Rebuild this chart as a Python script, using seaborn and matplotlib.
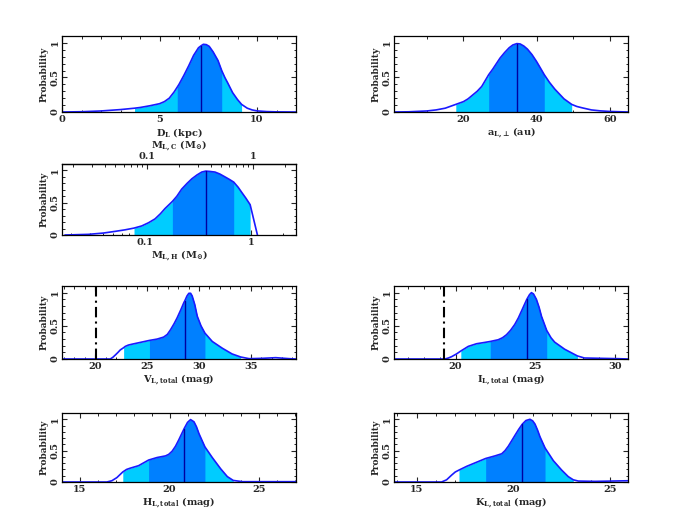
import numpy as np
import matplotlib
matplotlib.use("Agg")
import matplotlib.pyplot as plt
from matplotlib.ticker import MultipleLocator, FixedLocator, FuncFormatter, LogLocator, NullFormatter
import seaborn as sns

# ---------------- data ----------------
dl_x = [0, 1, 2, 3, 3.72, 4, 4.5, 5, 5.25, 5.5, 5.75, 5.91, 6, 6.25, 6.5, 6.75, 7, 7.14, 7.25, 7.4, 7.55, 7.75, 8, 8.19, 8.35, 8.5, 8.75, 9, 9.21, 9.5, 9.75, 10, 10.5, 11, 12]
dl_y = [0, 0.004, 0.015, 0.035, 0.055, 0.065, 0.09, 0.12, 0.15, 0.2, 0.29, 0.36, 0.40, 0.53, 0.67, 0.82, 0.93, 0.96, 0.98, 0.975, 0.95, 0.87, 0.745, 0.6, 0.5, 0.42, 0.28, 0.18, 0.11, 0.055, 0.03, 0.016, 0.006, 0.002, 0]
dl_bounds = dict(c=(3.72, 9.21), d=(5.91, 8.19), med=7.14)

a_x = [1, 5, 10, 12.5, 15, 17.9, 20, 21.25, 22.5, 23.75, 25, 26.9, 28, 29, 30, 31.25, 32.5, 33.5, 34.6, 35.5, 36.5, 37.5, 38.75, 40, 41, 42.1, 43.5, 45, 46.25, 47.5, 49.6, 51, 52.5, 55, 57.5, 60, 65]
a_y = [0, 0.003, 0.015, 0.03, 0.055, 0.11, 0.15, 0.19, 0.245, 0.3, 0.37, 0.54, 0.62, 0.7, 0.78, 0.86, 0.93, 0.97, 0.99, 0.985, 0.955, 0.91, 0.83, 0.73, 0.64, 0.54, 0.43, 0.33, 0.26, 0.19, 0.11, 0.08, 0.06, 0.03, 0.016, 0.008, 0]
a_bounds = dict(c=(17.9, 49.6), d=(26.9, 42.1), med=34.6)

m_x = [0.0175, 0.0291, 0.0403, 0.052, 0.0647, 0.0787, 0.093, 0.108, 0.1245, 0.14, 0.1546, 0.1815, 0.2, 0.222, 0.25, 0.277, 0.31, 0.344, 0.375, 0.41, 0.459, 0.51, 0.571, 0.63, 0.69, 0.76, 0.822, 0.9, 0.987, 1.157]
m_y = [0, 0.01, 0.03, 0.056, 0.08, 0.107, 0.14, 0.19, 0.25, 0.33, 0.41, 0.52, 0.6, 0.71, 0.8, 0.87, 0.93, 0.975, 0.99, 0.985, 0.975, 0.945, 0.90, 0.86, 0.82, 0.74, 0.66, 0.57, 0.47, 0]
m_bounds = dict(c=(0.0787, 0.987), d=(0.1815, 0.69), med=0.375)
m_ratio = 1.047  # M_L,H / M_L,C

v_x = [16.8, 21.45, 21.7, 21.94, 22.2, 22.42, 22.74, 22.9, 23.2, 23.55, 24.35, 25.23, 25.97, 26.6, 26.95, 27.26, 27.6, 27.9, 28.25, 28.55, 28.65, 28.85, 29.03, 29.2, 29.35, 29.6, 29.84, 30.2, 30.58, 31.29, 32.26, 33.2, 34.03, 34.84, 36.1, 37.4, 38.7, 39.36]
v_y = [0, 0, 0.025, 0.06, 0.1, 0.137, 0.17, 0.19, 0.21, 0.223, 0.25, 0.28, 0.30, 0.33, 0.37, 0.44, 0.53, 0.62, 0.74, 0.85, 0.88, 0.95, 0.99, 0.99, 0.95, 0.82, 0.645, 0.5, 0.39, 0.264, 0.162, 0.076, 0.03, 0.005, 0.01, 0.02, 0.005, 0]
v_bounds = dict(c=(22.74, 34.03), d=(25.23, 30.58), med=28.65, lim=20.05)

i_x = [16.13, 19.33, 19.55, 19.75, 20.05, 20.33, 20.8, 21.32, 21.84, 22.18, 22.68, 22.95, 23.2, 23.45, 23.72, 23.95, 24.14, 24.48, 24.65, 24.77, 24.9, 25.08, 25.25, 25.4, 25.73, 26.0, 26.23, 26.86, 27.66, 28.1, 29.16, 30.2, 30.84]
i_y = [0, 0, 0.015, 0.035, 0.075, 0.12, 0.19, 0.23, 0.25, 0.264, 0.29, 0.32, 0.365, 0.43, 0.52, 0.62, 0.72, 0.9, 0.97, 1.0, 0.98, 0.9, 0.78, 0.645, 0.43, 0.32, 0.254, 0.147, 0.046, 0.015, 0.01, 0.005, 0]
i_bounds = dict(c=(20.33, 27.66), d=(22.18, 25.73), med=24.48, lim=19.27)

h_x = [14, 16.5, 16.78, 17.06, 17.39, 17.6, 17.8, 18.27, 18.83, 19.3, 19.77, 19.95, 20.14, 20.33, 20.51, 20.81, 21.0, 21.17, 21.36, 21.5, 21.64, 21.97, 22.38, 22.85, 23.22, 23.55, 24.07, 27.05]
h_y = [0, 0, 0.02, 0.07, 0.16, 0.2, 0.22, 0.26, 0.35, 0.39, 0.416, 0.44, 0.49, 0.57, 0.67, 0.85, 0.95, 0.995, 0.96, 0.88, 0.77, 0.56, 0.39, 0.21, 0.086, 0.025, 0.005, 0.005]
h_bounds = dict(c=(17.39, 23.55), d=(18.83, 21.97), med=20.81)

k_x = [13.83, 16.29, 16.55, 16.81, 17.0, 17.19, 17.59, 18.1, 18.57, 19.05, 19.4, 19.57, 19.74, 19.9, 20.09, 20.28, 20.47, 20.65, 20.86, 21.0, 21.12, 21.25, 21.38, 21.64, 22.07, 22.5, 22.84, 23.1, 23.36, 24.22, 25.09, 25.93]
k_y = [0, 0, 0.035, 0.11, 0.16, 0.19, 0.25, 0.315, 0.375, 0.416, 0.45, 0.5, 0.57, 0.65, 0.746, 0.84, 0.924, 0.98, 1.0, 0.975, 0.924, 0.83, 0.72, 0.543, 0.34, 0.19, 0.086, 0.035, 0.015, 0.01, 0.015, 0.02]
k_bounds = dict(c=(17.19, 23.1), d=(18.57, 21.64), med=20.47)

# ---------------- style ----------------
sns.set_theme(style="ticks")
plt.rcParams.update({
    "font.family": ["DejaVu Serif"],
    "font.weight": "bold",
    "mathtext.fontset": "custom",
    "mathtext.rm": "DejaVu Serif:bold",
    "mathtext.it": "DejaVu Serif:bold",
    "mathtext.bf": "DejaVu Serif:bold",
    "font.size": 7,
    "axes.labelsize": 7,
    "axes.labelweight": "bold",
    "axes.linewidth": 0.9,
    "axes.edgecolor": "black",
    "xtick.direction": "in", "ytick.direction": "in",
    "xtick.top": True, "ytick.right": True,
    "xtick.major.size": 3.5, "ytick.major.size": 3.5,
    "xtick.minor.size": 1.8, "ytick.minor.size": 1.8,
    "xtick.major.width": 0.8, "ytick.major.width": 0.8,
    "xtick.minor.width": 0.7, "ytick.minor.width": 0.7,
    "xtick.labelsize": 7, "ytick.labelsize": 7,
    "xtick.major.pad": 2.5, "ytick.major.pad": 1.5,
})

C_DARK = "#0080ff"
C_LIGHT = "#00ccff"
C_LINE = "#1a1aff"
C_MED = "#0000a0"

fig = plt.figure(figsize=(6.9, 5.18), dpi=100)
W = 234 / 690
pos = {
    "dl": [62 / 690, 1 - 112 / 518, W, 76 / 518],
    "a": [394 / 690, 1 - 112 / 518, W, 76 / 518],
    "m": [62 / 690, 1 - 235 / 518, W, 71 / 518],
    "v": [62 / 690, 1 - 359 / 518, W, 73 / 518],
    "i": [394 / 690, 1 - 359 / 518, W, 73 / 518],
    "h": [62 / 690, 1 - 482 / 518, W, 69 / 518],
    "k": [394 / 690, 1 - 482 / 518, W, 69 / 518],
}


def segment(xs, ys, lo, hi):
    xs = np.asarray(xs, float)
    ys = np.asarray(ys, float)
    inside = (xs > lo) & (xs < hi)
    sx = np.concatenate([[lo], xs[inside], [hi]])
    sy = np.concatenate([[np.interp(lo, xs, ys)], ys[inside], [np.interp(hi, xs, ys)]])
    return sx, sy


fmt = FuncFormatter(lambda v, p: "%g" % v)


def panel(key, xs, ys, b, xlim, xlabel, major, minor, logx=False):
    ax = fig.add_axes(pos[key])
    if logx:
        ax.set_xscale("log")
    for (lo, hi), col in ((b["c"], C_LIGHT), (b["d"], C_DARK)):
        sx, sy = segment(xs, ys, lo, hi)
        ax.fill_between(sx, 0, sy, color=col, linewidth=0)
    sns.lineplot(x=xs, y=ys, ax=ax, color=C_LINE, lw=1.2, estimator=None, sort=False)
    ym = np.interp(b["med"], xs, ys)
    ax.plot([b["med"], b["med"]], [0, ym], color=C_MED, lw=1.0)
    if "lim" in b:
        ax.axvline(b["lim"], color="black", lw=1.5, ls=(0, (5, 2, 1, 2)))
    ax.set_xlim(*xlim)
    ax.set_ylim(0, 1.1)
    ax.yaxis.set_major_locator(FixedLocator([0, 0.5, 1]))
    ax.yaxis.set_major_formatter(fmt)
    ax.yaxis.set_minor_locator(MultipleLocator(0.1))
    ax.tick_params(axis="y", labelrotation=90)
    for t in ax.yaxis.get_majorticklabels():
        t.set_va("center")
    ax.xaxis.set_major_locator(FixedLocator(major))
    ax.xaxis.set_major_formatter(fmt)
    if logx:
        ax.xaxis.set_minor_locator(LogLocator(base=10, subs=np.arange(2, 10)))
        ax.xaxis.set_minor_formatter(NullFormatter())
    else:
        ax.xaxis.set_minor_locator(MultipleLocator(minor))
    ax.tick_params(which="both", top=True, right=True, direction="in")
    ax.set_xlabel(xlabel, labelpad=1)
    ax.set_ylabel("Probability", labelpad=2, fontsize=6.5)
    return ax


panel("dl", dl_x, dl_y, dl_bounds, (0, 12), r"D$_{\rm L}$ (kpc)", [0, 5, 10], 1)
panel("a", a_x, a_y, a_bounds, (1, 65), "a$_{\\rm L,\u22a5}$ (au)", [20, 40, 60], 10)
axm = panel("m", m_x, m_y, m_bounds, (0.0164, 2.68), r"M$_{\rm L,H}$ (M$_{\odot}$)", [0.1, 1], None, logx=True)
axm.tick_params(which="both", top=False)
sec = axm.secondary_xaxis("top", functions=(lambda x: x / m_ratio, lambda x: x * m_ratio))
sec.xaxis.set_major_locator(FixedLocator([0.1, 1]))
sec.xaxis.set_major_formatter(fmt)
sec.xaxis.set_minor_locator(LogLocator(base=10, subs=np.arange(2, 10)))
sec.xaxis.set_minor_formatter(NullFormatter())
sec.tick_params(which="both", direction="in", pad=2)
sec.set_xlabel(r"M$_{\rm L,C}$ (M$_{\odot}$)", labelpad=3)

panel("v", v_x, v_y, v_bounds, (16.8, 39.36), r"V$_{\rm L,total}$ (mag)", [20, 25, 30, 35], 1)
panel("i", i_x, i_y, i_bounds, (16.13, 30.84), r"I$_{\rm L,total}$ (mag)", [20, 25, 30], 1)
panel("h", h_x, h_y, h_bounds, (14, 27.05), r"H$_{\rm L,total}$ (mag)", [15, 20, 25], 1)
panel("k", k_x, k_y, k_bounds, (13.83, 25.93), r"K$_{\rm L,total}$ (mag)", [15, 20, 25], 1)

fig.savefig("out.png", dpi=100)
